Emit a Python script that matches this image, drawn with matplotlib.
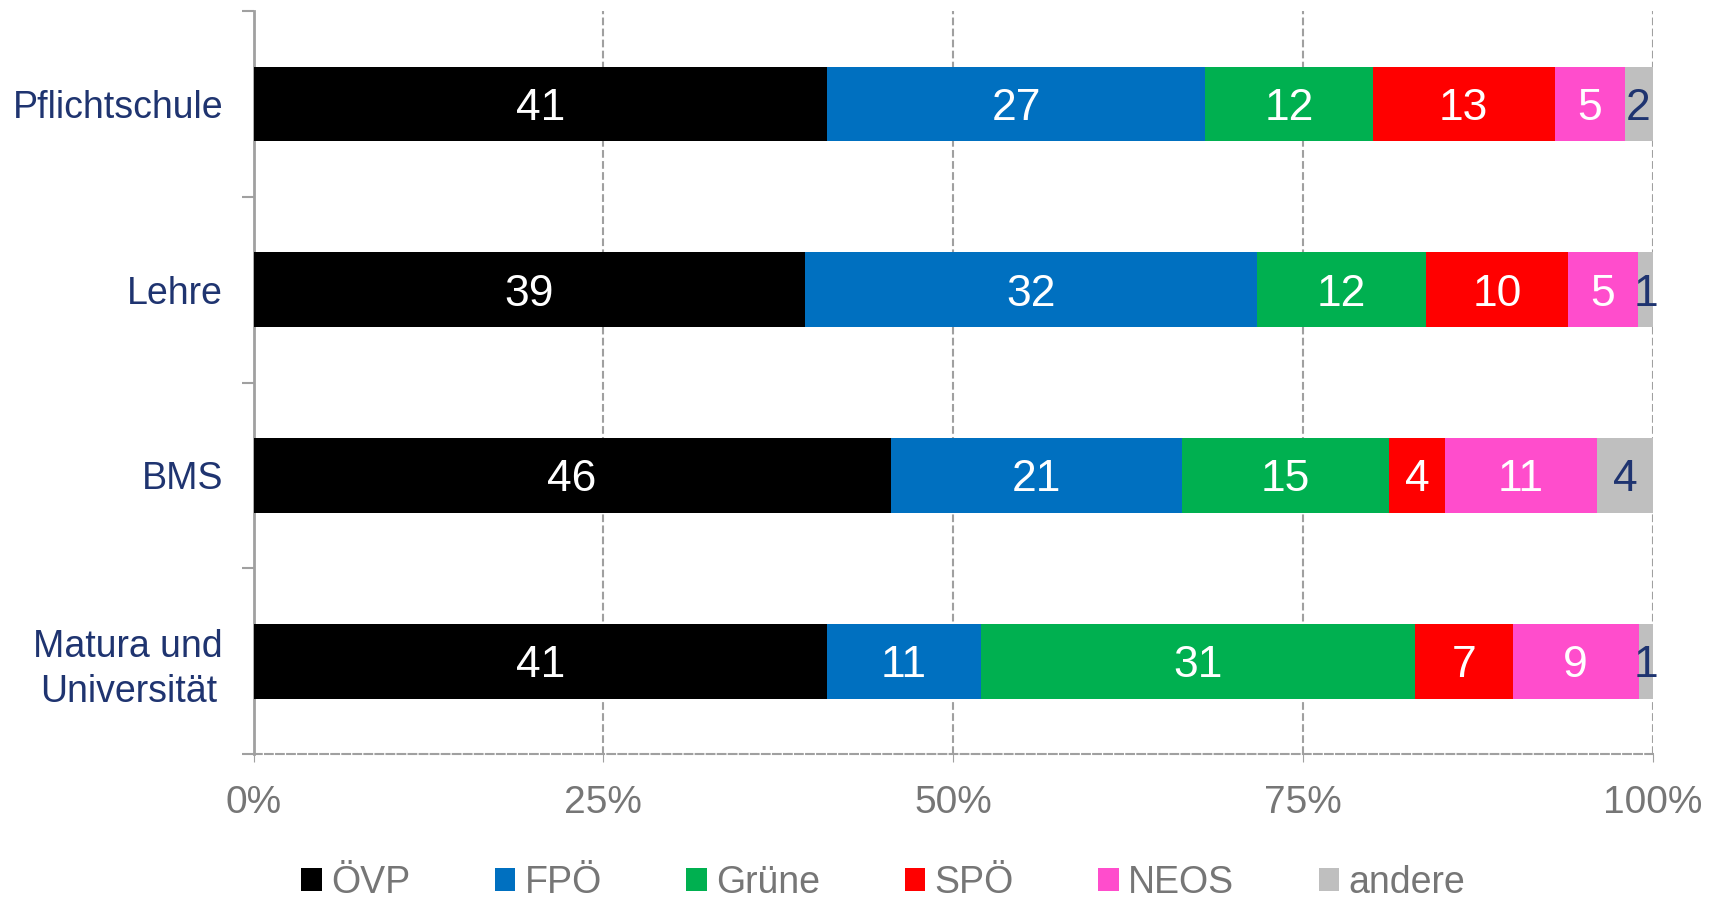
import numpy as np
from matplotlib import pyplot as plt
from matplotlib.patches import Patch

plt.rcParams['font.family'] = ['Liberation Sans', 'DejaVu Sans']

# categories and party shares (values as printed in the bars)
categories = ['Pflichtschule', 'Lehre', 'BMS', 'Matura und\nUniversität']
parties = ['ÖVP', 'FPÖ', 'Grüne', 'SPÖ', 'NEOS', 'andere']
oevp = [41, 39, 46, 41]
fpoe = [27, 32, 21, 11]
gruene = [12, 12, 15, 31]
spoe = [13, 10, 4, 7]
neos = [5, 5, 11, 9]
andere = [2, 1, 4, 1]
xticks = [0, 25, 50, 75, 100]
xtick_labels = ['0%', '25%', '50%', '75%', '100%']

colors = ['#000000', '#0070C0', '#00B050', '#FF0000', '#FF4DCC', '#BFBFBF']
label_colors = ['white', 'white', 'white', 'white', 'white', '#1F3470']
grid_col = '#A0A0A0'

values = np.array([oevp, fpoe, gruene, spoe, neos, andere], dtype=float)
# 100% stacked: normalise each row
shares = values / values.sum(axis=0) * 100

fig = plt.figure(figsize=(17.25, 8.98), dpi=100)
ax = fig.add_axes([0.147, 0.160, 0.811, 0.828])

y = np.arange(len(categories))
left = np.zeros(len(categories))
for i in range(len(parties)):
    bars = ax.barh(y, shares[i], left=left, height=0.4, color=colors[i], zorder=3)
    texts = ax.bar_label(bars, labels=[str(int(v)) for v in values[i]], label_type='center',
                         color=label_colors[i], fontsize=32)
    for t in texts:
        t.set_verticalalignment('center_baseline')
    left += shares[i]

ax.set_xlim(0, 100)
ax.set_ylim(3.5, -0.5)

ax.set_xticks(xticks)
ax.set_xticklabels(xtick_labels, fontsize=28, color='#767676')
ax.tick_params(axis='x', length=6, color=grid_col, pad=16)

ax.set_yticks(y)
ax.set_yticklabels(categories, fontsize=27, color='#1F3470', linespacing=1.3,
                   multialignment='center')
ax.set_yticks(np.arange(-0.5, 4, 1), minor=True)
ax.tick_params(axis='y', which='major', length=0, pad=22)
ax.tick_params(axis='y', which='minor', length=9, width=1.5, color=grid_col)

for x in xticks[1:]:
    ax.axvline(x, color=grid_col, linestyle='--', linewidth=1.5, zorder=1)

for s in ['top', 'right']:
    ax.spines[s].set_visible(False)
ax.spines['left'].set_color(grid_col)
ax.spines['left'].set_linewidth(2)
ax.spines['bottom'].set_color(grid_col)
ax.spines['bottom'].set_linewidth(1.5)
ax.spines['bottom'].set_linestyle('--')

handles = [Patch(facecolor=c, edgecolor='none') for c in colors]
leg = fig.legend(handles, parties, loc='center', bbox_to_anchor=(0.512, 0.017), ncol=6,
                 frameon=False, fontsize=27, handlelength=0.55, handleheight=0.55,
                 handletextpad=0.25, columnspacing=2.25)
for t in leg.get_texts():
    t.set_color('#767676')

fig.savefig('out.png', dpi=100)
